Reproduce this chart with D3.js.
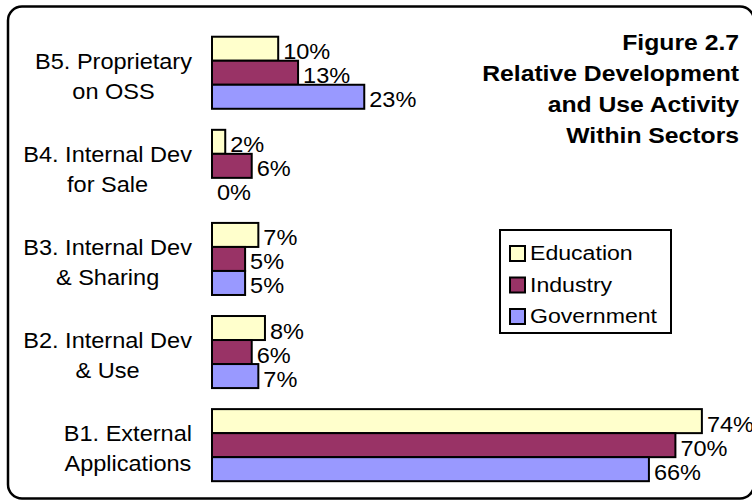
<!DOCTYPE html>
<html>
<head>
<meta charset="utf-8">
<script src="https://cdn.jsdelivr.net/npm/d3@7/dist/d3.min.js"></script>
<style>
  html, body { margin: 0; padding: 0; background: #fff; }
  svg { display: block; }
  text { font-family: "Liberation Sans", Arial, sans-serif; fill: #000; }
</style>
</head>
<body>
<svg id="chart" width="752" height="501"></svg>
<script>
// Categories, top to bottom
const categories = ["B5", "B4", "B3", "B2", "B1"];
const categoryLines = [
  ["B5. Proprietary", "on OSS"],
  ["B4. Internal Dev", "for Sale"],
  ["B3. Internal Dev", "& Sharing"],
  ["B2. Internal Dev", "& Use"],
  ["B1. External", "Applications"]
];
// Series (percent of each sector)
const seriesNames = ["Education", "Industry", "Government"];
const education  = [10, 2, 7, 8, 74];
const industry   = [13, 6, 5, 6, 70];
const government = [23, 0, 5, 7, 66];
const seriesColors = ["#FFFFCC", "#993366", "#9999FF"];
const titleLines = ["Figure 2.7", "Relative Development", "and Use Activity", "Within Sectors"];

const seriesValues = [education, industry, government];
const rows = categories.map((c, i) => ({
  key: c,
  lines: categoryLines[i],
  values: seriesNames.map((s, j) => ({ series: s, value: seriesValues[j][i], color: seriesColors[j] }))
}));

// The typeface is drawn slightly widened
const SX = 1.07, SX_TITLE = 1.15, SX_LEGEND = 1.1;
function place(sel, px, py, sx) {
  sel.attr("transform", `translate(${px},${py}) scale(${sx},1)`);
}

const svg = d3.select("#chart");

// Rounded outer frame
svg.append("rect")
  .attr("x", 8).attr("y", 6.5)
  .attr("width", 746).attr("height", 492)
  .attr("rx", 14).attr("ry", 14)
  .attr("fill", "#fff").attr("stroke", "#000").attr("stroke-width", 2.5);

const x = d3.scaleLinear().domain([0, 100]).range([212, 874]);
const y = d3.scaleBand().domain(categories).range([26.2, 491.7]).paddingInner(0.226).paddingOuter(0.113);
const ySeries = d3.scaleBand().domain(seriesNames).range([0, y.bandwidth()]).padding(0);

const groups = svg.append("g").selectAll("g.group")
  .data(rows).join("g")
  .attr("class", "group")
  .attr("transform", d => `translate(0,${y(d.key)})`);

groups.selectAll("rect")
  .data(d => d.values.filter(v => v.value > 0))
  .join("rect")
  .attr("x", x(0))
  .attr("y", v => ySeries(v.series))
  .attr("width", v => x(v.value) - x(0))
  .attr("height", ySeries.bandwidth())
  .attr("fill", v => v.color)
  .attr("stroke", "#000")
  .attr("stroke-width", 2);

groups.selectAll("text.value")
  .data(d => d.values)
  .join("text")
  .attr("class", "value")
  .attr("font-size", 22)
  .text(v => `${v.value}%`)
  .each(function(v) {
    place(d3.select(this), x(v.value) + 5, ySeries(v.series) + ySeries.bandwidth() / 2 + 10.5, SX);
  });

// Category labels: block right-aligned to the axis, lines centred inside the block
const axisRight = 192;
groups.each(function(d) {
  const g = d3.select(this);
  const mid = y.bandwidth() / 2;
  const ts = d.lines.map(line => g.append("text")
    .attr("font-size", 22)
    .attr("text-anchor", "middle")
    .text(line));
  const w = d3.max(ts, t => t.node().getComputedTextLength()) * SX;
  ts.forEach((t, i) => place(t, axisRight - w / 2, mid - 4 + i * 30, SX));
});

// Title
svg.append("g").selectAll("text")
  .data(titleLines).join("text")
  .attr("text-anchor", "end")
  .attr("font-size", 21.5)
  .attr("font-weight", "bold")
  .text(d => d)
  .each(function(d, i) { place(d3.select(this), 739, 50 + i * 31, SX_TITLE); });

// Legend
const legend = svg.append("g");
legend.append("rect")
  .attr("x", 500).attr("y", 230).attr("width", 171).attr("height", 103)
  .attr("fill", "#fff").attr("stroke", "#000").attr("stroke-width", 2);
const items = legend.selectAll("g.item")
  .data(seriesNames).join("g")
  .attr("class", "item")
  .attr("transform", (d, i) => `translate(0,${i * 31.5})`);
items.append("rect")
  .attr("x", 510).attr("y", 246).attr("width", 15).attr("height", 15)
  .attr("fill", (d, i) => seriesColors[i])
  .attr("stroke", "#000").attr("stroke-width", 2);
items.append("text")
  .attr("font-size", 21)
  .text(d => d)
  .each(function() { place(d3.select(this), 530, 260, SX_LEGEND); });
</script>
</body>
</html>
